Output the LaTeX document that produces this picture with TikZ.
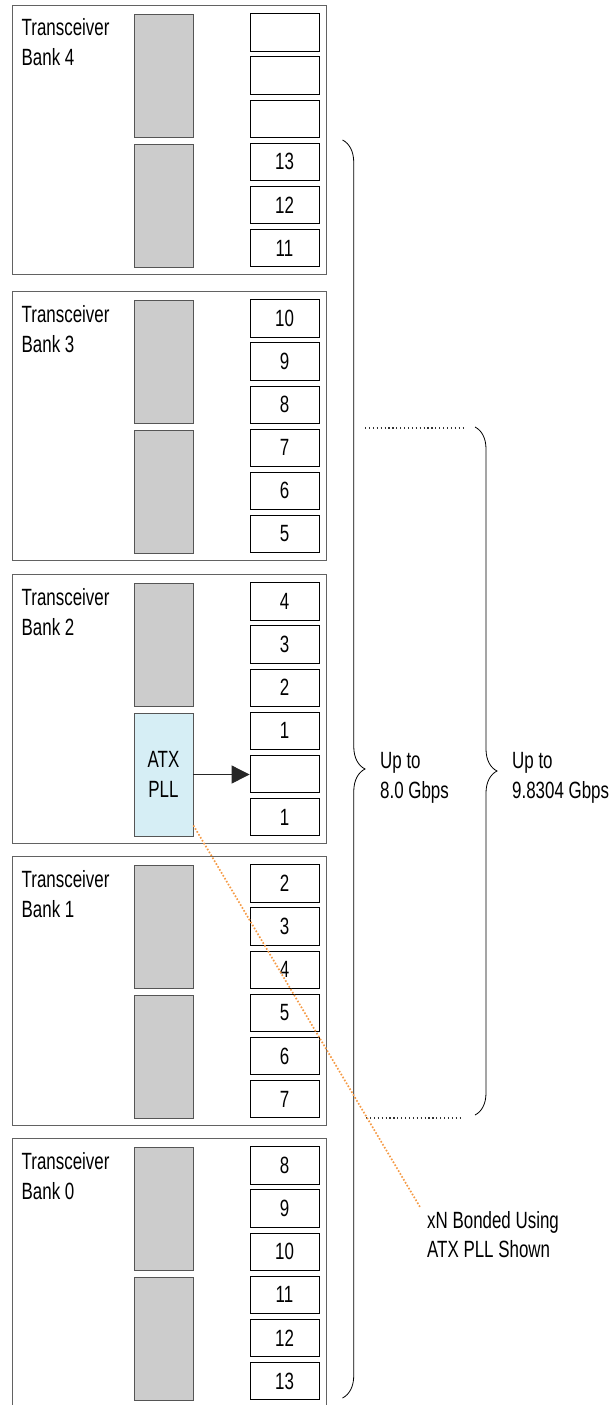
\documentclass[tikz,border=0pt]{standalone}
\usepackage{fontspec}
\setmainfont{Liberation Sans}[FakeStretch=0.72]
\usetikzlibrary{arrows.meta,decorations.pathreplacing,calc}
\definecolor{framegray}{HTML}{626262}
\definecolor{blockgray}{HTML}{CCCCCC}
\definecolor{blockedge}{HTML}{555555}
\definecolor{atxblue}{HTML}{D6EEF5}
\definecolor{dotorange}{HTML}{F59A45}
\tikzset{
  bankframe/.style={draw=framegray,line width=0.9pt,minimum width=314pt,minimum height=269pt,inner sep=0pt},
  banklabel/.style={anchor=base west,inner sep=0pt},
  grayblk/.style={draw=blockedge,fill=blockgray,line width=0.8pt,minimum width=59pt,minimum height=123pt,inner sep=0pt},
  atxblk/.style={draw=blockedge,fill=atxblue,line width=0.8pt,minimum width=59pt,minimum height=123pt,inner sep=0pt,align=center},
  lanebox/.style={draw=black,line width=0.8pt,minimum width=69pt,minimum height=37.5pt,inner sep=0pt},
  arrowline/.style={draw=black!85,line width=0.9pt,-{Triangle[length=18pt,width=18pt]}},
  bracestyle/.style={draw=black,line width=0.8pt,decorate,decoration={brace,amplitude=#1,aspect=0.5}},
  blackdots/.style={draw=black!80,line width=1.2pt,dash pattern=on 1.2pt off 2.7pt},
  orangedots/.style={draw=dotorange,line width=1.7pt,dash pattern=on 1.6pt off 1.8pt},
  txt/.style={anchor=base west,inner sep=0pt}
}
% #1 name, #2 top y, #3 bank number, #4 lane labels, #5 second block style, #6 second block text
\newcommand{\xbank}[6]{%
  \node[bankframe] (#1) at (169,#2+134.5) {};
  \node[banklabel] (#1ta) at (21.5,#2+31) {Transceiver};
  \node[banklabel] (#1tb) at (21.5,#2+61) {Bank #3};
  \node[grayblk] (#1g1) at (163.5,#2+70.5) {};
  \node[#5] (#1g2) at (163.5,#2+200.5) {#6};
  \foreach \lab [count=\i] in {#4} {
    \node[lanebox] (#1s\i) at (284.5,{#2+27.5+43.1*(\i-1)}) {\lab};
  }%
}
\begin{document}
\begin{tikzpicture}[x=1pt,y=-1pt,font=\fontsize{23.5}{30}\selectfont]
\useasboundingbox (0,0) rectangle (608,1405);
\clip (0,0) rectangle (608,1405);

\xbank{bfour}{5}{4}{{},{},{},13,12,11}{grayblk}{}
\xbank{bthree}{291}{3}{10,9,8,7,6,5}{grayblk}{}
\xbank{btwo}{574}{2}{4,3,2,1,{},1}{atxblk}{ATX\\PLL}
\xbank{bone}{856}{1}{2,3,4,5,6,7}{grayblk}{}
\xbank{bzero}{1138}{0}{8,9,10,11,12,13}{grayblk}{}

% ATX PLL to lane
\draw[arrowline] (btwog2.east) -- (btwog2.east -| btwos5.west);

% braces
\coordinate (braceAtop) at (342.5,140);
\coordinate (braceAbot) at (342.5,1398);
\draw[bracestyle=22.5pt] (braceAtop) -- (braceAbot);
\coordinate (braceBtop) at (475,427);
\coordinate (braceBbot) at (475,1115);
\draw[bracestyle=22pt] (braceBtop) -- (braceBbot);

% dotted range markers
\coordinate (dotTa) at (365,428);
\coordinate (dotTb) at (463,428);
\draw[blackdots] (dotTa) -- (dotTb);
\coordinate (dotBa) at (366,1118);
\coordinate (dotBb) at (463,1118);
\draw[blackdots] (dotBa) -- (dotBb);

% rate labels
\node[txt] (upA1) at (380,768) {Up to};
\node[txt] (upA2) at (380,798) {8.0 Gbps};
\node[txt] (upB1) at (512,768) {Up to};
\node[txt] (upB2) at (512,798) {9.8304 Gbps};

% callout
\node[txt] (note1) at (427,1228) {xN Bonded Using};
\node[txt] (note2) at (427,1257) {ATX PLL Shown};
\coordinate (ostart) at ($(btwog2.south east)+(0,-11)$);
\coordinate (oend) at (420,1207);
\draw[orangedots] (ostart) -- (oend);
\end{tikzpicture}
\end{document}
